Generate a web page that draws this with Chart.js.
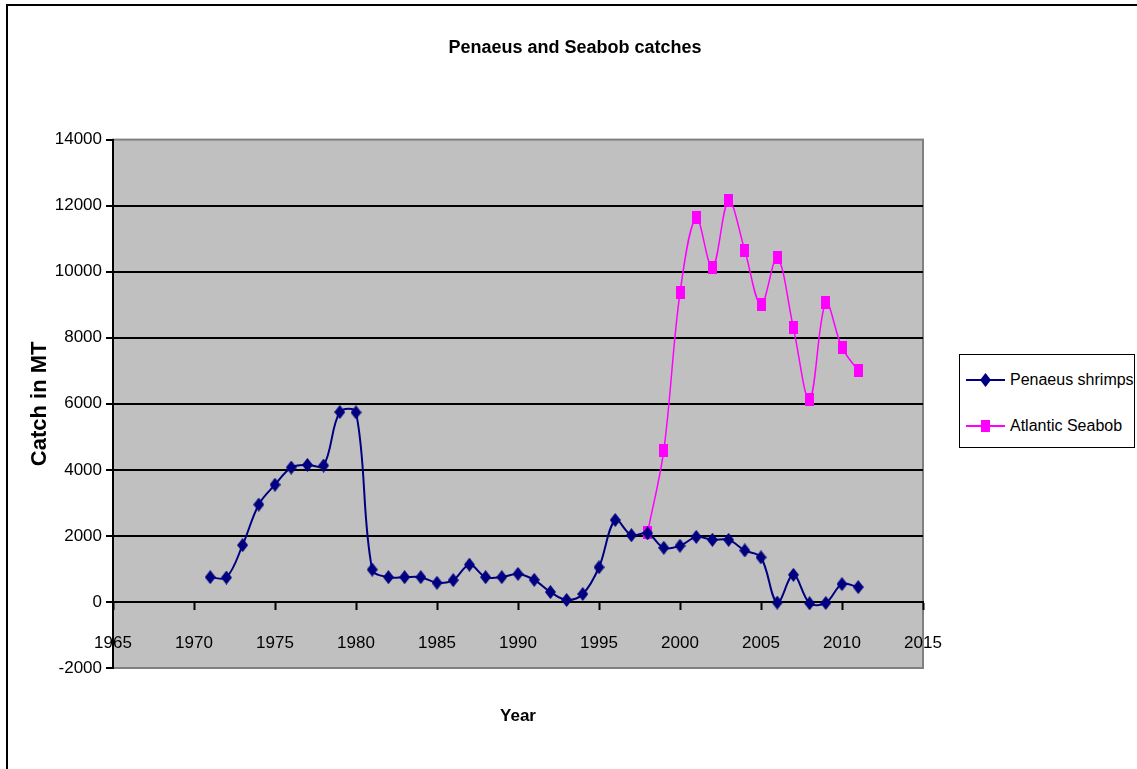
<!DOCTYPE html>
<html>
<head>
<meta charset="utf-8">
<title>Penaeus and Seabob catches</title>
<script src="https://cdn.jsdelivr.net/npm/chart.js@4.4.1/dist/chart.umd.min.js"></script>
<style>
  html, body { margin: 0; padding: 0; background: #fff; overflow: hidden; }
  #wrap { position: relative; width: 1137px; height: 769px; }
  #frame {
    position: absolute; left: 6px; top: 4px; right: -10px; bottom: -10px;
    border-left: 2px solid #000; border-top: 2px solid #000;
  }
  #catchChart { position: absolute; left: 0; top: 0; }
  #legend {
    position: absolute; left: 959px; top: 354px; width: 174px; height: 92px;
    border: 1.5px solid #000; background: #fff;
    font-family: 'Liberation Sans', Arial, sans-serif;
    font-size: 16px; color: #000; white-space: nowrap;
  }
  .row { position: absolute; left: 6px; height: 24px; display: flex; align-items: center; }
  .row svg { display: block; margin-right: 5px; }
</style>
</head>
<body>
<div id="wrap">
  <div id="frame"></div>
  <canvas id="catchChart" width="1137" height="769"></canvas>
  <div id="legend">
    <div class="row" style="top: 13px;">
      <svg width="39" height="16"><line x1="0" y1="8" x2="39" y2="8" stroke="#000080" stroke-width="2"/><polygon points="19.5,1 25,8 19.5,15 14,8" fill="#000080"/></svg>
      <span>Penaeus shrimps</span>
    </div>
    <div class="row" style="top: 59px;">
      <svg width="39" height="16"><line x1="0" y1="8" x2="39" y2="8" stroke="#FF00FF" stroke-width="2"/><rect x="15" y="2" width="9" height="12" fill="#FF00FF"/></svg>
      <span>Atlantic Seabob</span>
    </div>
  </div>
</div>
<script>
const sans = "'Liberation Sans', Arial, sans-serif";

const penaeusYears = [
  1971, 1972, 1973, 1974, 1975, 1976, 1977, 1978, 1979, 1980,
  1981, 1982, 1983, 1984, 1985, 1986, 1987, 1988, 1989, 1990,
  1991, 1992, 1993, 1994, 1995, 1996, 1997, 1998, 1999, 2000,
  2001, 2002, 2003, 2004, 2005, 2006, 2007, 2008, 2009, 2010, 2011
];
const penaeusCatch = [
  750, 740, 1720, 2950, 3550, 4070, 4150, 4130, 5750, 5740,
  980, 750, 750, 750, 580, 660, 1130, 750, 750, 850,
  670, 300, 60, 240, 1050, 2480, 2020, 2080, 1640, 1700,
  1970, 1880, 1880, 1560, 1350, -20, 820, -40, -30, 540, 450
];
const seabobYears = [1998, 1999, 2000, 2001, 2002, 2003, 2004, 2005, 2006, 2007, 2008, 2009, 2010, 2011];
const seabobCatch = [2100, 4600, 9360, 11630, 10120, 12150, 10640, 9000, 10420, 8300, 6120, 9060, 7700, 7000];

const yearMin = 1965;
const yearMax = 2015;
const yearStep = 5;
const catchMin = -2000;
const catchMax = 14000;
const catchStep = 2000;

function toPoints(xs, ys) {
  const pts = [];
  for (let i = 0; i < xs.length; i++) {
    pts.push({ x: xs[i], y: ys[i] });
  }
  return pts;
}

function makeDiamond(w, h, color) {
  const c = document.createElement('canvas');
  c.width = w;
  c.height = h;
  const g = c.getContext('2d');
  g.fillStyle = color;
  g.beginPath();
  g.moveTo(w / 2, 0);
  g.lineTo(w, h / 2);
  g.lineTo(w / 2, h);
  g.lineTo(0, h / 2);
  g.closePath();
  g.fill();
  return c;
}

function makeRect(w, h, color) {
  const c = document.createElement('canvas');
  c.width = w;
  c.height = h;
  const g = c.getContext('2d');
  g.fillStyle = color;
  g.fillRect(0, 0, w, h);
  return c;
}

// grey plot area with a darker border, like the spreadsheet original
const plotArea = {
  id: 'plotArea',
  beforeDraw(chart) {
    const a = chart.chartArea;
    const ctx = chart.ctx;
    ctx.save();
    ctx.fillStyle = '#C0C0C0';
    ctx.fillRect(a.left, a.top, a.right - a.left, a.bottom - a.top);
    ctx.strokeStyle = '#808080';
    ctx.lineWidth = 2;
    ctx.strokeRect(a.left, a.top, a.right - a.left, a.bottom - a.top);
    ctx.restore();
  }
};

const ctx = document.getElementById('catchChart').getContext('2d');

const chart = new Chart(ctx, {
  type: 'line',
  data: {
    datasets: [
      {
        label: 'Penaeus shrimps',
        data: toPoints(penaeusYears, penaeusCatch),
        borderColor: '#000080',
        backgroundColor: '#000080',
        borderWidth: 2,
        tension: 0.35,
        pointStyle: makeDiamond(11, 14, '#000080'),
        pointRadius: 6,
        fill: false
      },
      {
        label: 'Atlantic Seabob',
        data: toPoints(seabobYears, seabobCatch),
        borderColor: '#FF00FF',
        backgroundColor: '#FF00FF',
        borderWidth: 1.5,
        tension: 0.35,
        pointStyle: makeRect(9, 13, '#FF00FF'),
        pointRadius: 6,
        fill: false
      }
    ]
  },
  options: {
    responsive: false,
    animation: false,
    layout: { padding: { left: 13, right: 0, top: 0, bottom: 0 } },
    plugins: {
      legend: { display: false },
      tooltip: { enabled: false },
      title: {
        display: true,
        text: 'Penaeus and Seabob catches',
        color: '#000',
        font: { family: sans, size: 18, weight: 'bold' },
        padding: { top: 37, bottom: 81 }
      }
    },
    scales: {
      x: {
        type: 'linear',
        position: 'bottom',
        min: yearMin,
        max: yearMax,
        ticks: { display: false },
        grid: { display: false },
        border: { display: false },
        title: {
          display: true,
          text: 'Year',
          color: '#000',
          font: { family: sans, size: 17, weight: 'bold' },
          padding: { top: 0, bottom: 42 }
        },
        afterFit: function (s) { s.height = 101; }
      },
      xAxis0: {
        type: 'linear',
        position: { y: 0 },
        min: yearMin,
        max: yearMax,
        ticks: {
          stepSize: yearStep,
          color: '#000',
          padding: 24,
          maxRotation: 0,
          autoSkip: false,
          font: { family: sans, size: 17 },
          callback: function (v) { return String(v); }
        },
        grid: { drawOnChartArea: false, drawTicks: true, tickLength: 7, tickColor: '#000', tickWidth: 2 },
        border: { display: true, color: '#000', width: 2 },
        afterFit: function (s) { s.height = 0; }
      },
      y: {
        type: 'linear',
        position: 'left',
        min: catchMin,
        max: catchMax,
        ticks: {
          stepSize: catchStep,
          color: '#000',
          padding: 4,
          font: { family: sans, size: 17 },
          callback: function (v) { return String(v); }
        },
        grid: {
          color: function (c) {
            const v = c.tick ? c.tick.value : null;
            return (v === catchMin || v === catchMax) ? 'rgba(0,0,0,0)' : '#000';
          },
          lineWidth: 2,
          tickColor: '#000',
          tickLength: 7
        },
        border: { display: true, color: '#000', width: 2 },
        title: {
          display: true,
          text: 'Catch in MT',
          color: '#000',
          font: { family: sans, size: 22, weight: 'bold' },
          padding: { top: 14, bottom: 0 }
        },
        afterFit: function (s) { s.width = 100; }
      },
      yRight: {
        type: 'linear',
        position: 'right',
        display: true,
        ticks: { display: false },
        grid: { display: false },
        border: { display: false },
        afterFit: function (s) { s.width = 214; }
      }
    }
  },
  plugins: [plotArea]
});
</script>
</body>
</html>
